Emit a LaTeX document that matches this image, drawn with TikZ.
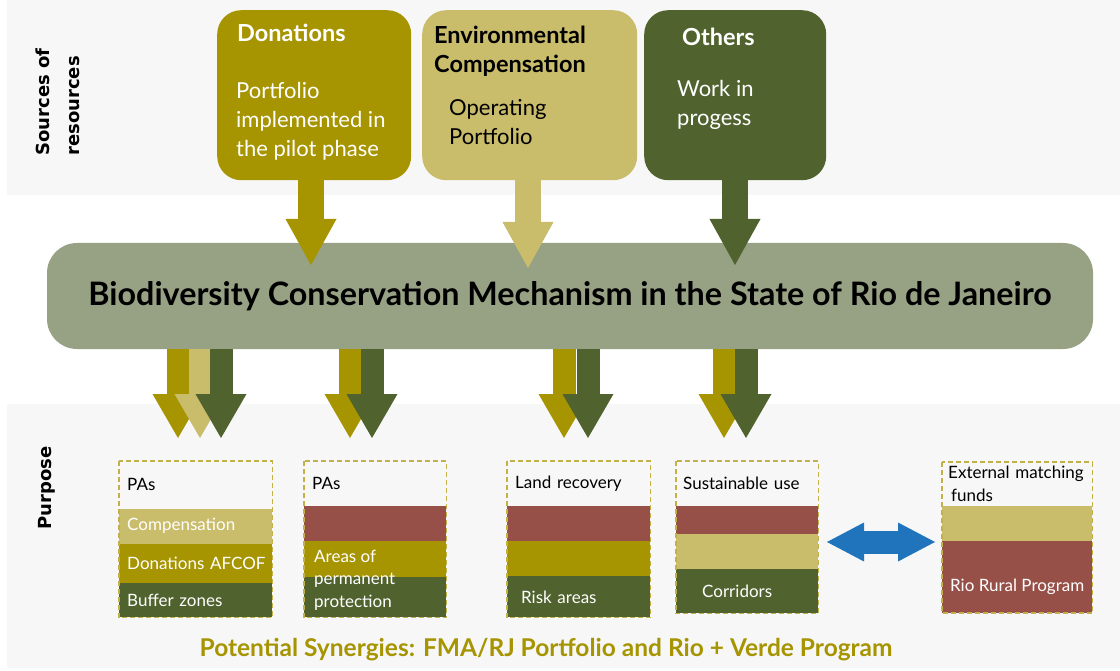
\documentclass[tikz,border=0pt]{standalone}
\usepackage{fontspec}
\setmainfont{Lato}
\newfontfamily\sidefont{DejaVu Sans}
\usetikzlibrary{arrows.meta,positioning}

\definecolor{olivefund}{HTML}{A69400}
\definecolor{compfund}{HTML}{C9BC6A}
\definecolor{otherfund}{HTML}{50622E}
\definecolor{mechgreen}{HTML}{97A184}
\definecolor{ruralred}{HTML}{975048}
\definecolor{synblue}{HTML}{1F74BC}
\definecolor{bandgray}{HTML}{F7F7F7}
\definecolor{framecol}{HTML}{C2B04A}

\tikzset{
  srcbox/.style={anchor=north west, rounded corners=24pt, minimum height=170pt, inner sep=0pt},
  srctitle/.style={anchor=west, inner sep=0pt, align=left, font=\fontsize{23.5}{29}\selectfont\bfseries},
  srcbody/.style={anchor=west, inner sep=0pt, align=left, font=\fontsize{22}{29}\selectfont},
  mechbar/.style={fill=mechgreen, rounded corners=30pt, minimum width=1046pt, minimum height=106pt,
    inner sep=0pt, font=\fontsize{32.3}{36}\selectfont\bfseries},
  toparrow/.style={line width=26pt, -{Triangle[width=51pt, length=46pt, line width=0pt]}},
  lowarrow/.style={line width=23pt, -{Triangle[width=51pt, length=44pt, line width=0pt]}},
  synarrow/.style={line width=23pt, color=synblue,
    {Triangle[width=39pt, length=37pt, line width=0pt]}-{Triangle[width=39pt, length=37pt, line width=0pt]}},
  fundrow/.style={anchor=north west, inner xsep=8pt, inner ysep=0pt, align=left,
    font=\fontsize{17}{22.5}\selectfont},
  dashframe/.style={draw=framecol, line width=1.5pt, dash pattern=on 5pt off 3pt},
  sidelabel/.style={rotate=90, align=left, inner sep=0pt, font=\sidefont\bfseries\fontsize{18}{30}\selectfont},
  syntext/.style={inner sep=0pt, text=olivefund, font=\fontsize{24.5}{28}\selectfont\bfseries},
}

\begin{document}
\begin{tikzpicture}[x=1pt, y=-1pt]
  \useasboundingbox (0,0) rectangle (1120,671);
  % background bands
  \fill[bandgray] (7,0) rectangle (1120,195);
  \fill[bandgray] (7,404) rectangle (1120,668);

  % side labels
  \node[sidelabel] (srclab) at (58,102) {Sources of\\resources};
  \node[sidelabel] (purlab) at (47,488) {Purpose};

  % sources of resources
  \node[srcbox, fill=olivefund, minimum width=194pt] (don) at (217,10) {};
  \node[srcbox, fill=compfund, minimum width=215pt] (env) at (422,10) {};
  \node[srcbox, fill=otherfund, minimum width=182pt] (oth) at (644,10) {};

  \node[srctitle, text=white] (dontitle) at (237,33) {Donations};
  \node[srcbody, text=white] (donbody) at (236,121) {Portfolio\\implemented in\\the pilot phase};
  \node[srctitle] (envtitle) at (434,51) {Environmental\\Compensation};
  \node[srcbody] (envbody) at (449,122) {Operating\\Portfolio};
  \node[srctitle, text=white] (othtitle) at (682,37) {Others};
  \node[srcbody, text=white] (othbody) at (677,105) {Work in\\progess};

  % mechanism
  \node[mechbar] (cbm) at (570,296) {Biodiversity Conservation Mechanism in the State of Rio de Janeiro};

  % resources flowing in
  \coordinate (dontip) at (311,265);
  \coordinate (envtip) at (528,268);
  \coordinate (othtip) at (735,265);
  \draw[toparrow, color=olivefund] (don.south -| dontip) -- (dontip);
  \draw[toparrow, color=compfund] (env.south -| envtip) -- (envtip);
  \draw[toparrow, color=otherfund] (oth.south -| othtip) -- (othtip);

  % resources flowing out
  \foreach \tipx/\col [count=\i] in {178/olivefund, 200/compfund, 221/otherfund,
      350/olivefund, 372/otherfund, 564/olivefund, 588/otherfund,
      724/olivefund, 746/otherfund} {
    \coordinate (outtip\i) at (\tipx,438);
    \draw[lowarrow, color=\col] (cbm.south -| outtip\i) -- (outtip\i);
  }

  % purpose: PAs
  \node[fundrow, text width=137pt, minimum height=47pt] (b1top) at (119,461) {PAs};
  \node[fundrow, text width=137pt, minimum height=35pt, fill=compfund, text=white, below=0pt of b1top] (b1comp) {Compensation};
  \node[fundrow, text width=137pt, minimum height=39pt, fill=olivefund, text=white, below=0pt of b1comp] (b1don) {\mbox{Donations AFCOF}};
  \node[fundrow, text width=137pt, minimum height=34pt, fill=otherfund, text=white, below=0pt of b1don] (b1buf) {Buffer zones};

  % purpose: PAs / permanent protection
  \node[fundrow, text width=126pt, minimum height=44pt] (b2top) at (304,461) {PAs};
  \node[fundrow, text width=126pt, minimum height=35pt, fill=ruralred, below=0pt of b2top] (b2red) {};
  \node[fundrow, text width=126pt, minimum height=36pt, fill=olivefund, below=0pt of b2red] (b2olive) {};
  \node[fundrow, text width=126pt, minimum height=40pt, fill=otherfund, below=0pt of b2olive] (b2dark) {};
  \node[fundrow, anchor=west, inner xsep=0pt, text=white] (b2text) at (314,580) {Areas of\\permanent\\protection};

  % purpose: land recovery
  \node[fundrow, text width=127pt, minimum height=44pt] (b3top) at (507,461) {Land recovery};
  \node[fundrow, text width=127pt, minimum height=35pt, fill=ruralred, below=0pt of b3top] (b3red) {};
  \node[fundrow, text width=127pt, minimum height=35pt, fill=olivefund, below=0pt of b3red] (b3olive) {};
  \node[fundrow, inner xsep=14pt, text width=115pt, minimum height=41pt, fill=otherfund, text=white, below=0pt of b3olive] (b3dark) {Risk areas};

  % purpose: sustainable use
  \node[fundrow, inner xsep=7pt, text width=128pt, minimum height=44pt] (b4top) at (676,461) {Sustainable use};
  \node[fundrow, text width=126pt, minimum height=28pt, fill=ruralred, below=0pt of b4top] (b4red) {};
  \node[fundrow, text width=126pt, minimum height=35pt, fill=compfund, below=0pt of b4red] (b4light) {};
  \node[fundrow, inner xsep=26pt, text width=90pt, minimum height=44pt, fill=otherfund, text=white, below=0pt of b4light] (b4dark) {Corridors};

  % purpose: external matching funds
  \node[fundrow, inner xsep=6pt, text width=138pt, minimum height=43pt] (b5top) at (942,462) {External matching\\\hspace{3pt}funds};
  \node[fundrow, text width=134pt, minimum height=35pt, fill=compfund, below=0pt of b5top] (b5light) {};
  \node[fundrow, text width=134pt, minimum height=72pt, fill=ruralred, below=0pt of b5light] (b5red) {};
  \node[fundrow, anchor=west, inner xsep=0pt, text=white] (b5text) at (950,587) {Rio Rural Program};

  % dashed frames
  \foreach \a/\b in {b1top/b1buf, b2top/b2dark, b3top/b3dark, b4top/b4dark, b5top/b5red}
    \draw[dashframe] (\a.north west) rectangle (\b.south east);

  % synergy between sustainable use and Rio Rural
  \coordinate (synL) at (827,542);
  \coordinate (synR) at (935,542);
  \draw[synarrow] (synL) -- (synR);

  \node[syntext] (syn) at (546,650) {Potential Synergies: FMA/RJ Portfolio and Rio + Verde Program};
\end{tikzpicture}
\end{document}
